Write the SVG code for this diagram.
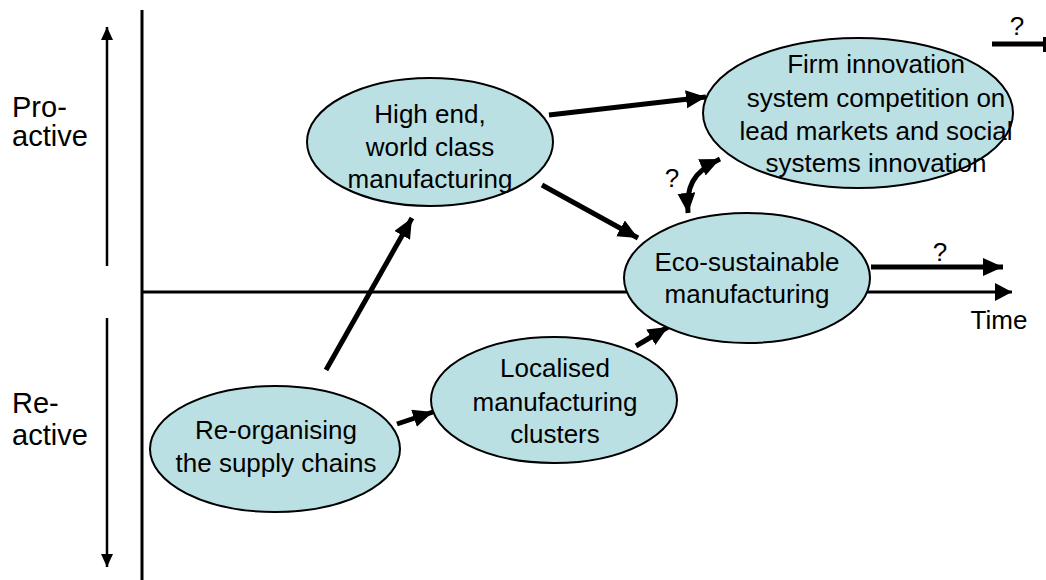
<svg xmlns="http://www.w3.org/2000/svg" width="1046" height="580" viewBox="0 0 1046 580">
<style>
.node ellipse{fill:#BBE0E3;stroke:#000;stroke-width:2}
text{font-family:"Liberation Sans",Arial,sans-serif;fill:#000}
.t{font-size:26px;text-anchor:middle}
.side{font-size:29px}
.thick{stroke:#000;stroke-width:5;fill:none}
.axis{stroke:#000;stroke-width:3;fill:none}
.thin{stroke:#000;stroke-width:2.5;fill:none}
</style>
<defs>
<marker id="ah" markerUnits="userSpaceOnUse" markerWidth="24" markerHeight="20" refX="20" refY="9" orient="auto-start-reverse" viewBox="0 0 24 20">
<path d="M0,0 L20,9 L0,18 z" fill="#000"/>
</marker>
<marker id="aht" markerUnits="userSpaceOnUse" markerWidth="20" markerHeight="20" refX="17" refY="9" orient="auto" viewBox="0 0 20 20">
<path d="M0,0 L17,9 L0,18 z" fill="#000"/>
</marker>
<marker id="ahs" markerUnits="userSpaceOnUse" markerWidth="16" markerHeight="14" refX="13" refY="6" orient="auto-start-reverse" viewBox="0 0 16 14">
<path d="M0,0 L13,6 L0,12 z" fill="#000"/>
</marker>
</defs>
<rect width="1046" height="580" fill="#fff"/>
<g id="axes">
<line class="axis" x1="142" y1="10" x2="142" y2="580"/>
<line class="axis" x1="142" y1="292" x2="1012" y2="292" marker-end="url(#aht)"/>
<line class="thin" x1="107" y1="266" x2="107" y2="27" marker-end="url(#ahs)"/>
<line class="thin" x1="107" y1="318" x2="107" y2="567" marker-end="url(#ahs)"/>
</g>
<g id="side-labels">
<text class="side" x="12" y="117">Pro-</text>
<text class="side" x="12" y="146">active</text>
<text class="side" x="12" y="413">Re-</text>
<text class="side" x="12" y="445">active</text>
<text class="t" x="999" y="329">Time</text>
</g>
<g id="connectors">
<line class="thick" x1="326" y1="370" x2="412" y2="218" marker-end="url(#ah)"/>
<line class="thick" x1="397" y1="424" x2="433" y2="412" marker-end="url(#ah)"/>
<line class="thick" x1="636" y1="346" x2="668" y2="327" marker-end="url(#ah)"/>
<line class="thick" x1="542" y1="185" x2="638" y2="238" marker-end="url(#ah)"/>
<line class="thick" x1="549" y1="115" x2="706" y2="97" marker-end="url(#ah)"/>
<line class="thick" x1="871" y1="267" x2="1003" y2="267" marker-end="url(#ah)"/>
<path class="thick" d="M688,213 C686,188 692,172 720,159" marker-start="url(#ah)" marker-end="url(#ah)"/>
<line class="thick" x1="992" y1="44" x2="1046" y2="44"/>
<rect x="1043" y="37" width="3" height="15" fill="#000"/>
<text class="t" x="940" y="261">?</text>
<text class="t" x="1017" y="35">?</text>
<text class="t" x="672" y="187">?</text>
</g>
<g id="n-highend" class="node">
<ellipse cx="430" cy="142" rx="123" ry="64"/>
<text class="t" x="430" y="123">High end,</text>
<text class="t" x="430" y="156">world class</text>
<text class="t" x="430" y="188">manufacturing</text>
</g>
<g id="n-firm" class="node">
<ellipse cx="858" cy="113" rx="155" ry="75"/>
<text class="t" x="876" y="73">Firm innovation</text>
<text class="t" x="876" y="107">system competition on</text>
<text class="t" x="876" y="140">lead markets and social</text>
<text class="t" x="876" y="172">systems innovation</text>
</g>
<g id="n-eco" class="node">
<ellipse cx="747" cy="278" rx="123" ry="65"/>
<text class="t" x="747" y="271">Eco-sustainable</text>
<text class="t" x="747" y="303">manufacturing</text>
</g>
<g id="n-local" class="node">
<ellipse cx="554" cy="400" rx="123" ry="63"/>
<text class="t" x="555" y="377">Localised</text>
<text class="t" x="555" y="411">manufacturing</text>
<text class="t" x="555" y="443">clusters</text>
</g>
<g id="n-reorg" class="node">
<ellipse cx="275" cy="449" rx="125" ry="63"/>
<text class="t" x="276" y="439">Re-organising</text>
<text class="t" x="276" y="472">the supply chains</text>
</g>
</svg>
